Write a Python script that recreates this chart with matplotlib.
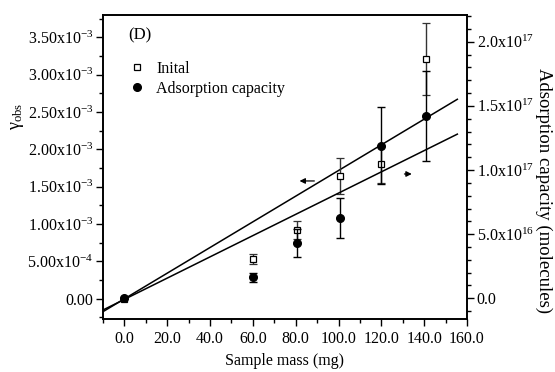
import matplotlib
matplotlib.use("Agg")
import matplotlib.pyplot as plt
from matplotlib.ticker import MultipleLocator, FuncFormatter
from matplotlib.lines import Line2D
import numpy as np

plt.rcParams['font.family'] = ['Liberation Serif', 'DejaVu Serif']
plt.rcParams['mathtext.fontset'] = 'custom'
plt.rcParams['mathtext.rm'] = 'Liberation Serif'
plt.rcParams['mathtext.it'] = 'Liberation Serif:italic'

# sample mass (mg)
mass = [0, 60, 80.5, 100.8, 120, 141]
# initial uptake coefficient (left axis)
inital = [0.0, 0.53e-3, 0.92e-3, 1.65e-3, 1.80e-3, 3.21e-3]
inital_err = [0.0, 0.07e-3, 0.125e-3, 0.24e-3, 0.25e-3, 0.48e-3]
# adsorption capacity (right axis, molecules)
capacity = [0.0, 0.164e17, 0.43e17, 0.626e17, 1.19e17, 1.42e17]
capacity_err = [0.0, 0.036e17, 0.11e17, 0.158e17, 0.30e17, 0.35e17]
# linear fits: slope, intercept
fit_inital = [0.01718e-3, 0.0]
fit_capacity = [0.00828e17, -0.008e17]
fit_range = [-10, 155.5]

fig = plt.figure(figsize=(5.55, 3.72), dpi=100)
ax = fig.add_axes([0.1856, 0.1425, 0.6558, 0.8172])
ax2 = ax.twinx()

xf = np.array(fit_range)
ax.plot(xf, fit_inital[0] * xf + fit_inital[1], color='black', lw=1.1)
ax2.plot(xf, fit_capacity[0] * xf + fit_capacity[1], color='black', lw=1.1)

ax.errorbar(mass, inital, yerr=inital_err, fmt='s', ms=4, mfc='white',
            mec='black', mew=0.9, ecolor='#333333', elinewidth=1.0,
            capsize=3, capthick=1.0, zorder=5)
ax2.errorbar(mass, capacity, yerr=capacity_err, fmt='o', ms=5.5, mfc='black',
             mec='black', ecolor='black', elinewidth=1.0,
             capsize=3, capthick=1.0, zorder=5)

ax.set_xlim(-10, 160)
ax.set_ylim(-0.27e-3, 3.8e-3)
ax2.set_ylim(-0.161e17, 2.208e17)

ax.xaxis.set_major_locator(MultipleLocator(20))
ax.xaxis.set_minor_locator(MultipleLocator(10))
ax.xaxis.set_major_formatter(FuncFormatter(lambda v, p: f"{v:.1f}"))

ax.yaxis.set_major_locator(MultipleLocator(0.5e-3))
ax.yaxis.set_minor_locator(MultipleLocator(0.25e-3))
ax2.yaxis.set_major_locator(MultipleLocator(0.5e17))
ax2.yaxis.set_minor_locator(MultipleLocator(0.1e17))


def sci_fmt(v, digits):
    if abs(v) < 1e-30:
        return f"{0:.{digits}f}"
    e = int(np.floor(np.log10(abs(v)) + 1e-9))
    m = v / 10 ** e
    return f"{m:.{digits}f}x10$^{{{e}}}$"


ax.yaxis.set_major_formatter(FuncFormatter(lambda v, p: sci_fmt(v, 2)))
ax2.yaxis.set_major_formatter(FuncFormatter(lambda v, p: sci_fmt(v, 1)))

for a in (ax, ax2):
    a.tick_params(which='both', direction='out', labelsize=11.5, width=1.0)
    a.tick_params(which='major', length=5, pad=2)
    a.tick_params(which='minor', length=3)
    for s in a.spines.values():
        s.set_linewidth(1.2)
ax.tick_params(axis='x', pad=4)

ax.set_xlabel("Sample mass (mg)", fontsize=11.5, labelpad=4)
ax.set_ylabel("\u03b3$_{\\rm obs}$", fontsize=13, rotation=90,
              ha='center', va='center')
ax.yaxis.set_label_coords(-0.236, 0.668)
ax2.set_ylabel("Adsorption capacity (molecules)", fontsize=13.5,
               rotation=270, ha='center', va='center')
ax2.yaxis.set_label_coords(1.21, 0.424)

ax.text(0.069, 0.934, "(D)", transform=ax.transAxes, fontsize=12,
        va='center', ha='left')

handles = [Line2D([], [], ls='none', marker='s', ms=4, mfc='white',
                  mec='black', mew=0.9),
           Line2D([], [], ls='none', marker='o', ms=5.5, mfc='black',
                  mec='black')]
ax.legend(handles, ["Inital", "Adsorption capacity"], loc='upper left',
          bbox_to_anchor=(0.071, 0.85), frameon=False, fontsize=11.5,
          handlelength=1.0, handletextpad=0.7, borderpad=0,
          labelspacing=0.25, borderaxespad=0)

# direction arrows
ax.annotate("", xy=(80.5, 1.578e-3), xytext=(90, 1.578e-3),
            arrowprops=dict(arrowstyle='-|>', color='black', lw=0.9,
                            mutation_scale=8))
ax2.annotate("", xy=(135.5, 0.969e17), xytext=(129.5, 0.969e17),
             arrowprops=dict(arrowstyle='-|>', color='black', lw=0.9,
                             mutation_scale=8))

fig.savefig("out.png", dpi=100)
